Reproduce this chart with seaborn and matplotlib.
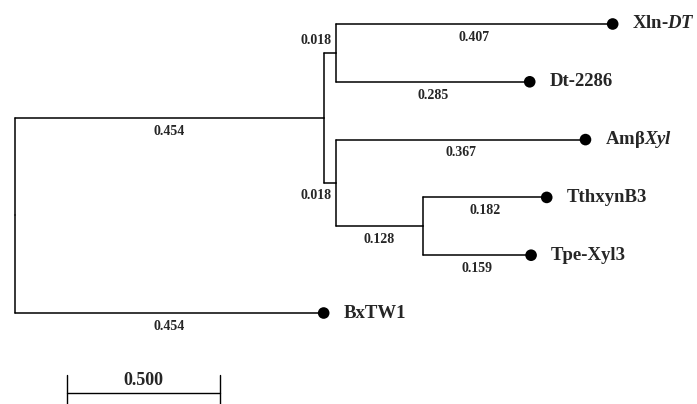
import pandas as pd
import numpy as np
import matplotlib.pyplot as plt
import seaborn as sns

# tree data: child -> parent, branch length
children = ["A", "BxTW1", "B", "C", "Xln", "Dt", "Amb", "D", "Tth", "Tpe"]
parents = ["root", "root", "A", "A", "B", "B", "C", "C", "D", "D"]
lengths = [0.454, 0.454, 0.018, 0.018, 0.407, 0.285, 0.367, 0.128, 0.182, 0.159]

# leaves, top to bottom
leaves = ["Xln", "Dt", "Amb", "Tth", "Tpe", "BxTW1"]
leaf_labels = [r"Xln-$\mathit{DT}$", "Dt-2286", r"Amβ$\mathit{Xyl}$", "TthxynB3", "Tpe-Xyl3", "BxTW1"]

scale_label = "0.500"
scale_len = 0.225  # drawn length of the scale bar

sns.set_theme(style="white")
plt.rcParams["font.family"] = ["Liberation Serif", "DejaVu Serif"]
plt.rcParams["mathtext.fontset"] = "custom"
plt.rcParams["mathtext.rm"] = "Liberation Serif:bold"
plt.rcParams["mathtext.it"] = "Liberation Serif:italic:bold"

parent_of = dict(zip(children, parents))
length_of = dict(zip(children, lengths))

# x = distance from root
xpos = {"root": 0.0}
def get_x(n):
    if n not in xpos:
        xpos[n] = get_x(parent_of[n]) + length_of[n]
    return xpos[n]
for c in children:
    get_x(c)

# y = leaf order, internal nodes at mean of their children
ypos = {leaf: i for i, leaf in enumerate(leaves)}
def get_y(n):
    if n not in ypos:
        kids = [c for c in children if parent_of[c] == n]
        ys = [get_y(k) for k in kids]
        ypos[n] = (min(ys) + max(ys)) / 2
    return ypos[n]
get_y("root")

# segments
rows = []
seg = 0
for c in children:
    p = parent_of[c]
    # horizontal branch
    rows.append((seg, xpos[p], ypos[c])); rows.append((seg, xpos[c], ypos[c])); seg += 1
    # vertical connector
    rows.append((seg, xpos[p], ypos[p])); rows.append((seg, xpos[p], ypos[c])); seg += 1
segs = pd.DataFrame(rows, columns=["seg", "x", "y"])

fig = plt.figure(figsize=(6.97, 4.04), dpi=100)
ax = fig.add_axes([0, 0, 1, 1])
sns.lineplot(data=segs, x="x", y="y", units="seg", estimator=None, sort=False,
             color="black", linewidth=1.1, ax=ax)

leaf_df = pd.DataFrame({"x": [xpos[l] for l in leaves], "y": [ypos[l] for l in leaves]})
sns.scatterplot(data=leaf_df, x="x", y="y", color="black", s=70, edgecolor="none", ax=ax, zorder=3)

for l, lab in zip(leaves, leaf_labels):
    ax.text(xpos[l] + 0.029, ypos[l], lab, fontsize=13.5, fontweight="bold",
            va="center", ha="left")

# branch length labels
for c in children:
    p = parent_of[c]
    L = length_of[c]
    if L < 0.05:
        above = ypos[c] < ypos[p]
        ax.text(xpos[c] - 0.007, ypos[c] + (-0.21 if above else 0.21), f"{L:.3f}",
                fontsize=10, fontweight="bold", ha="right", va="center")
    else:
        ax.text((xpos[p] + xpos[c]) / 2, ypos[c] + 0.23, f"{L:.3f}",
                fontsize=10, fontweight="bold", ha="center", va="center")

# scale bar
sx0 = 0.077
sy = 6.38
ax.plot([sx0, sx0 + scale_len], [sy, sy], color="black", linewidth=1.0)
for sx in (sx0, sx0 + scale_len):
    ax.plot([sx, sx], [sy - 0.3, sy + 0.35], color="black", linewidth=1.0)
ax.text(sx0 + scale_len / 2, 6.16, scale_label, fontsize=13, fontweight="bold",
        ha="center", va="center")

ax.set_xlim(-0.022, 1.003)
ax.set_ylim(6.574, -0.415)
ax.axis("off")
fig.savefig("out.png", dpi=100)
